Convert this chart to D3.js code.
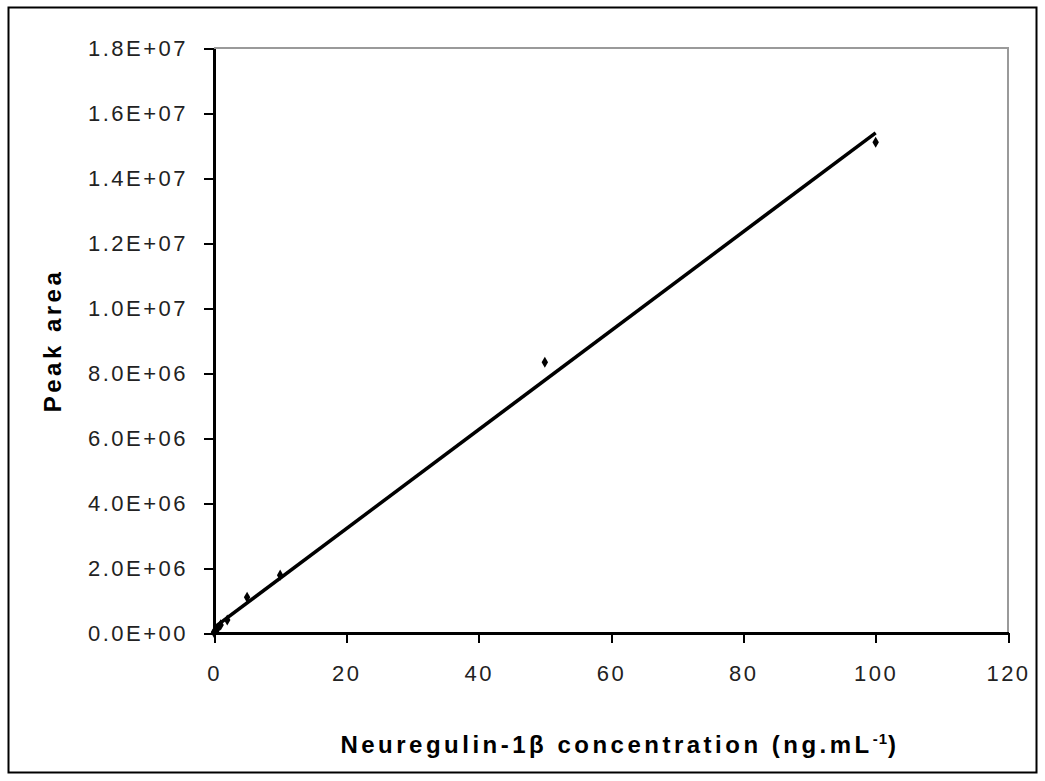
<!DOCTYPE html>
<html>
<head>
<meta charset="utf-8">
<script src="https://cdn.jsdelivr.net/npm/d3@7"></script>
<style>
  body { margin: 0; background: #fff; }
  .tick text { font-family: "Liberation Sans", Arial, sans-serif; font-size: 22px; letter-spacing: 2.5px; fill: #222; }
  .title { font-family: "Liberation Sans", Arial, sans-serif; font-weight: bold; font-size: 24px; letter-spacing: 3.5px; fill: #000; }
</style>
</head>
<body>
<div id="app"></div>
<script>
// concentrations (ng/mL) and peak areas
const conc      = [0, 0.1, 0.5, 1, 2, 5, 10, 50, 100];
const peakArea  = [2e4, 5e4, 1.2e5, 2.5e5, 4e5, 1.1e6, 1.78e6, 8.33e6, 1.51e7];

const xTicks      = [0, 20, 40, 60, 80, 100, 120];
const yTicks      = [0, 2e6, 4e6, 6e6, 8e6, 1e7, 1.2e7, 1.4e7, 1.6e7, 1.8e7];
const yTickLabels = ["0.0E+00", "2.0E+06", "4.0E+06", "6.0E+06", "8.0E+06",
                     "1.0E+07", "1.2E+07", "1.4E+07", "1.6E+07", "1.8E+07"];

const W = 1045, H = 781;
const m = { t: 48, r: 37, b: 148, l: 214 };

const svg = d3.select("#app").append("svg")
    .attr("width", W)
    .attr("height", H);

// outer chart border
svg.append("rect")
    .attr("x", 8.5).attr("y", 7.5)
    .attr("width", W - 17).attr("height", H - 16)
    .attr("fill", "#fff")
    .attr("stroke", "#000")
    .attr("stroke-width", 2);

const xScale = d3.scaleLinear().domain([0, 120]).range([m.l, W - m.r]);
const yScale = d3.scaleLinear().domain([0, 1.8e7]).range([H - m.b, m.t]);

// plot area frame (grey top/right)
svg.append("path")
    .attr("d", "M" + xScale(0) + "," + yScale(1.8e7) + "H" + xScale(120) + "V" + yScale(0))
    .attr("fill", "none")
    .attr("stroke", "#9a9a9a")
    .attr("stroke-width", 2.5)
    .attr("shape-rendering", "crispEdges");

const xAxis = svg.append("g")
    .attr("transform", "translate(0," + yScale(0) + ")")
    .call(d3.axisBottom(xScale).tickValues(xTicks).tickSize(10).tickPadding(22).tickSizeOuter(0));

const yAxis = svg.append("g")
    .attr("transform", "translate(" + xScale(0) + ",0)")
    .call(d3.axisLeft(yScale).tickValues(yTicks).tickSize(10).tickPadding(16).tickSizeOuter(0)
        .tickFormat((d, i) => yTickLabels[i]));

[xAxis, yAxis].forEach(a => {
    a.select(".domain").attr("stroke", "#000").attr("stroke-width", 2.5);
    a.selectAll(".tick line").attr("stroke", "#000").attr("stroke-width", 2);
    a.attr("shape-rendering", "crispEdges");
});
yAxis.selectAll(".tick text").attr("dy", "0.36em");

// least squares trendline
const n = conc.length;
const mx = d3.mean(conc), my = d3.mean(peakArea);
let sxy = 0, sxx = 0;
for (let i = 0; i < n; i++) {
    sxy += (conc[i] - mx) * (peakArea[i] - my);
    sxx += (conc[i] - mx) * (conc[i] - mx);
}
const slope = sxy / sxx;
const icpt = my - slope * mx;
const fitX = [0, d3.max(conc)];

svg.append("line")
    .attr("x1", xScale(fitX[0])).attr("y1", yScale(icpt + slope * fitX[0]))
    .attr("x2", xScale(fitX[1])).attr("y2", yScale(icpt + slope * fitX[1]))
    .attr("stroke", "#000")
    .attr("stroke-width", 3.5);

svg.append("g").selectAll("path")
    .data(conc).enter()
    .append("path")
    .attr("d", d3.symbol(d3.symbolDiamond, 36))
    .attr("transform", (d, i) => "translate(" + xScale(d) + "," + yScale(peakArea[i]) + ")")
    .attr("fill", "#000");

// axis titles
const xt = svg.append("text")
    .attr("class", "title")
    .attr("x", (xScale(0) + xScale(120)) / 2 + 9)
    .attr("y", 753)
    .attr("text-anchor", "middle");
xt.append("tspan").text("Neuregulin-1\u03b2  concentration (ng.mL");
xt.append("tspan").attr("dy", -9).style("font-size", "15px").style("letter-spacing", "1px").text("-1");
xt.append("tspan").attr("dy", 9).text(")");

svg.append("text")
    .attr("class", "title")
    .attr("transform", "translate(61," + (yScale(0) + yScale(1.8e7)) / 2 + ") rotate(-90)")
    .attr("text-anchor", "middle")
    .text("Peak area");
</script>
</body>
</html>
